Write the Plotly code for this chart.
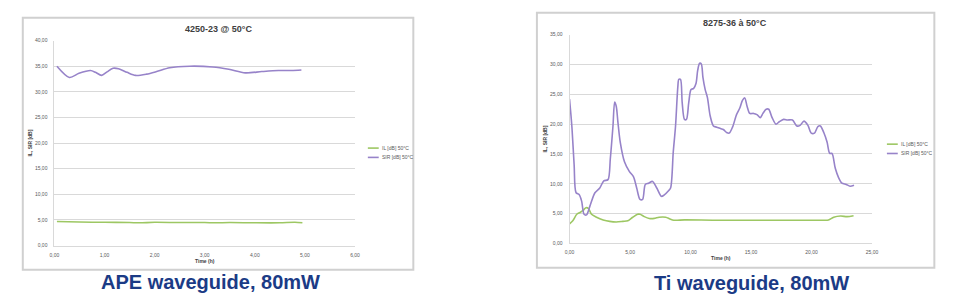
import plotly.graph_objects as go

W, H = 971, 305

# ---------------- data ----------------
ape_title = "4250-23 @ 50°C"
ti_title = "8275-36 à 50°C"
series_names = ["IL [dB] 50°C", "SIR [dB] 50°C"]
captions = ["APE waveguide, 80mW", "Ti waveguide, 80mW"]
x_title = "Time (h)"
y_title = "IL, SIR [dB]"

ape_sir_t = [0.05, 0.30, 0.49, 0.72, 0.82, 0.94, 1.05, 1.17, 1.28, 1.45, 1.62, 1.84,
             2.04, 2.30, 2.70, 3.16, 3.48, 3.81, 4.14, 4.47, 4.73, 4.93]
ape_sir = [35.0, 32.8, 33.6, 34.15, 33.8, 33.2, 33.9, 34.6, 34.5, 33.8, 33.2, 33.45,
           33.95, 34.7, 35.0, 34.85, 34.4, 33.7, 33.95, 34.15, 34.15, 34.25]
ape_il_t = [0.05, 0.5, 1.0, 1.5, 1.7, 2.0, 2.5, 3.0, 3.2, 3.5, 4.0, 4.5, 4.8, 4.95]
ape_il = [4.7, 4.6, 4.55, 4.5, 4.45, 4.55, 4.5, 4.5, 4.45, 4.5, 4.45, 4.45, 4.55, 4.45]

ti_sir_t = [0.0, 0.19, 0.38, 0.54, 0.79, 1.0, 1.2, 1.41, 1.69, 2.1, 2.5, 2.83, 3.18,
            3.37, 3.59, 3.73, 3.86, 4.0, 4.19, 4.54, 4.95, 5.28, 5.55, 5.82, 6.04,
            6.26, 6.53, 6.86, 7.21, 7.59, 7.81, 8.16, 8.35, 8.57, 8.76, 8.95, 9.03,
            9.17, 9.31, 9.50, 9.66, 9.85, 10.04, 10.26, 10.45, 10.59, 10.75, 10.89,
            11.02, 11.21, 11.4, 11.62, 11.89, 12.16, 12.43, 12.71, 12.98, 13.2, 13.47,
            13.8, 14.07, 14.29, 14.48, 14.67, 14.89, 15.21, 15.49, 15.76, 15.98, 16.25,
            16.46, 16.74, 17.06, 17.33, 17.69, 18.01, 18.42, 18.78, 19.05, 19.37, 19.7,
            19.97, 20.24, 20.52, 20.73, 21.01, 21.28, 21.5, 21.69, 21.96, 22.24, 22.51,
            22.86, 23.18, 23.51]
ti_sir = [24.2, 19.7, 13.2, 8.5, 8.2, 7.1, 4.9, 4.8, 6.3, 8.5, 9.3, 10.5, 10.7,
          14.2, 19.7, 23.7, 23.0, 20.3, 17.0, 13.7, 12.05, 11.2, 9.3, 7.4, 7.4,
          9.9, 10.1, 10.4, 9.3, 7.9, 8.1, 8.8, 9.3, 15.3, 19.7, 26.3, 27.5,
          27.5, 23.6, 20.8, 20.8, 23.6, 25.8, 26.0, 26.8, 29.0, 30.2, 30.1,
          27.9, 25.8, 24.4, 21.4, 19.7, 19.5, 19.3, 19.1, 18.6, 18.5, 19.5,
          21.6, 22.7, 24.0, 24.4, 23.0, 21.8, 21.8, 21.6, 21.1, 21.8, 22.5,
          22.5, 21.1, 20.0, 20.4, 20.8, 20.7, 20.7, 19.7, 19.8, 20.5, 19.8,
          18.5, 18.5, 19.6, 19.7, 18.6, 17.0, 15.1, 15.1, 12.6, 11.0, 10.1,
          9.9, 9.6, 9.75]
ti_il_t = [0.0, 0.27, 0.6, 0.87, 1.14, 1.36, 1.55, 1.82, 2.23, 2.78, 3.32, 3.86, 4.41,
           4.82, 5.22, 5.63, 5.82, 6.18, 6.59, 7.0, 7.4, 7.95, 8.3, 8.62, 9.5, 12.0,
           15.0, 18.0, 21.0, 21.4, 21.83, 22.4, 22.94, 23.47]
ti_il = [3.3, 3.8, 4.9, 5.2, 5.6, 6.0, 5.9, 4.9, 4.4, 3.95, 3.7, 3.6, 3.7,
         3.8, 4.4, 4.9, 4.9, 4.5, 4.2, 4.2, 4.4, 4.4, 4.1, 3.9, 3.95, 3.9,
         3.9, 3.9, 3.9, 3.95, 4.4, 4.6, 4.5, 4.65]

# ---------------- styling ----------------
IL_COLOR = "#9DC763"
SIR_COLOR = "#9783C9"
GRID = "#D9D9D9"
TXT = "#595959"
BOX = "#D0D0D0"
CAP = "#1B3B86"
FONT = "Liberation Sans"
LW = 1.6


def px(x):
    return x / W


def py(y):
    return 1 - y / H


fig = go.Figure()

fig.add_trace(go.Scatter(x=ape_il_t, y=ape_il, mode="lines", name=series_names[0],
                         line=dict(color=IL_COLOR, width=LW, shape="spline", smoothing=0.8),
                         xaxis="x", yaxis="y", showlegend=False))
fig.add_trace(go.Scatter(x=ape_sir_t, y=ape_sir, mode="lines", name=series_names[1],
                         line=dict(color=SIR_COLOR, width=LW, shape="spline", smoothing=0.8),
                         xaxis="x", yaxis="y", showlegend=False))
fig.add_trace(go.Scatter(x=ti_il_t, y=ti_il, mode="lines", name=series_names[0],
                         line=dict(color=IL_COLOR, width=LW, shape="spline", smoothing=0.8),
                         xaxis="x2", yaxis="y2", showlegend=False))
fig.add_trace(go.Scatter(x=ti_sir_t, y=ti_sir, mode="lines", name=series_names[1],
                         line=dict(color=SIR_COLOR, width=LW, shape="spline", smoothing=0.8),
                         xaxis="x2", yaxis="y2", showlegend=False))

tickfont = dict(family=FONT, size=5, color=TXT)
titlefont = dict(family=FONT, size=5, color="#404040", weight="bold")

common_x = dict(showgrid=False, showline=True, linecolor=GRID, linewidth=1,
                ticks="outside", ticklen=4, tickcolor="rgba(0,0,0,0)",
                tickformat=".2f", tickfont=tickfont, zeroline=False, fixedrange=True)
common_y = dict(showgrid=True, gridcolor=GRID, gridwidth=1, showline=True,
                linecolor=GRID, linewidth=1, ticks="outside", ticklen=5,
                tickcolor="rgba(0,0,0,0)", tickformat=".2f", tickfont=tickfont,
                zeroline=False, fixedrange=True)

fig.update_layout(
    width=W, height=H,
    margin=dict(l=0, r=0, t=0, b=0),
    paper_bgcolor="white", plot_bgcolor="white",
    separators=",.",
    showlegend=False,
    xaxis=dict(domain=[px(50), px(354)], range=[0, 6], dtick=1, anchor="y",
               title=dict(text=x_title, font=titlefont, standoff=2), **common_x),
    yaxis=dict(domain=[py(247.5), py(38.3)], range=[0, 40], dtick=5, anchor="x",
               title=dict(text=y_title, font=titlefont, standoff=2), **common_y),
    xaxis2=dict(domain=[px(571), px(877)], range=[0, 25], dtick=5, anchor="y2",
                title=dict(text=x_title, font=titlefont, standoff=2), **common_x),
    yaxis2=dict(domain=[py(245.3), py(32.3)], range=[0, 35], dtick=5, anchor="x2",
                title=dict(text=y_title, font=titlefont, standoff=2), **common_y),
)

shapes = []
annotations = []

# chart frames
for (x0, y0, x1, y1) in [(18, 15, 413, 272), (538, 10, 940, 270)]:
    shapes.append(dict(type="rect", xref="paper", yref="paper",
                       x0=px(x0), x1=px(x1), y0=py(y1), y1=py(y0),
                       line=dict(color=BOX, width=2), fillcolor="rgba(0,0,0,0)"))

# chart titles
for text, (cx, cy) in [(ape_title, (216, 27)), (ti_title, (738, 20))]:
    annotations.append(dict(text=text, x=px(cx), y=py(cy), xref="paper", yref="paper",
                            showarrow=False, xanchor="center", yanchor="middle",
                            font=dict(family=FONT, size=9, color="#404040", weight="bold")))

# legends (swatch + label)
for (lx, ly) in [(367, 148), (892, 144)]:
    for i, (name, col) in enumerate(zip(series_names, [IL_COLOR, SIR_COLOR])):
        yy = ly + i * 9.5
        shapes.append(dict(type="line", xref="paper", yref="paper",
                           x0=px(lx), x1=px(lx + 11), y0=py(yy), y1=py(yy),
                           line=dict(color=col, width=LW)))
        annotations.append(dict(text=name, x=px(lx + 12), y=py(yy), xref="paper",
                                yref="paper", showarrow=False, xanchor="left",
                                yanchor="middle",
                                font=dict(family=FONT, size=5, color=TXT)))

# captions
for text, (cx, cy) in zip(captions, [(207.5, 284.5), (755, 286)]):
    annotations.append(dict(text=text, x=px(cx), y=py(cy), xref="paper", yref="paper",
                            showarrow=False, xanchor="center", yanchor="middle",
                            font=dict(family=FONT, size=20, color=CAP, weight="bold")))

fig.update_layout(shapes=shapes, annotations=annotations)

fig.write_html("out.html")
